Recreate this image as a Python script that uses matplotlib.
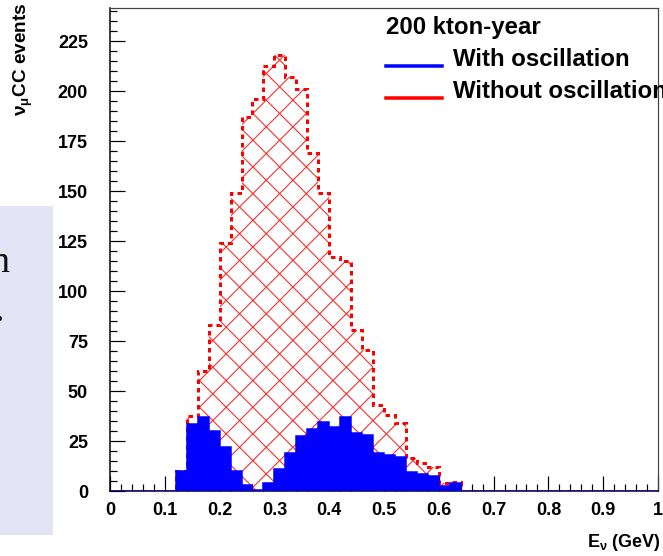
import numpy as np
import matplotlib
matplotlib.use("Agg")
import matplotlib.pyplot as plt
from matplotlib.lines import Line2D
from matplotlib.patches import Rectangle
from matplotlib.collections import LineCollection
from matplotlib.legend_handler import HandlerLine2D

# ---------------- data ----------------
bin_edges = np.round(np.arange(0.0, 1.0001, 0.02), 2)   # 50 bins of 0.02 GeV
first_bin = 0.12
with_osc = [10, 33.5, 37, 30, 22, 10, 3, 0.5, 4, 11, 19, 27.5, 31, 34.5, 32,
            37, 29, 28, 19, 18, 17, 9.5, 8.5, 7.5, 2.7, 3.8]
without_osc = [10, 37.5, 60, 83, 124, 149, 187, 196, 212.5, 218, 207, 201, 169,
               149, 117, 115, 80.5, 70.5, 43, 38, 34, 16.5, 14, 12, 3.8, 4.7]
x_ticks = [0, 0.1, 0.2, 0.3, 0.4, 0.5, 0.6, 0.7, 0.8, 0.9, 1]
x_ticklabels = ["0", "0.1", "0.2", "0.3", "0.4", "0.5", "0.6", "0.7", "0.8", "0.9", "1"]
y_ticks = [0, 25, 50, 75, 100, 125, 150, 175, 200, 225]
legend_title = "200 kton-year"
legend_labels = ["With oscillation", "Without oscillation"]

nb = len(bin_edges) - 1
i0 = int(round(first_bin / 0.02))
blue_vals = np.zeros(nb); blue_vals[i0:i0 + len(with_osc)] = with_osc
red_vals = np.zeros(nb); red_vals[i0:i0 + len(without_osc)] = without_osc

# ---------------- style ----------------
DPI = 100
def pt(px):
    return px * 72.0 / DPI

plt.rcParams['font.family'] = ['Liberation Sans', 'DejaVu Sans']
plt.rcParams['font.weight'] = 'bold'
plt.rcParams['mathtext.default'] = 'regular'
plt.rcParams['lines.scale_dashes'] = False

W, H = 663, 556
fig = plt.figure(figsize=(W / DPI, H / DPI), dpi=DPI)
fig.patch.set_facecolor('white')

# lavender slide fragment on the left
fig.patches.append(Rectangle((0, (H - 535) / H), 53 / W, (535 - 206) / H,
                             transform=fig.transFigure, facecolor='#e4e4f7',
                             edgecolor='none', zorder=0))
fig.text(-10 / W, (H - 272) / H, "n", fontsize=pt(38), family='Liberation Serif',
         fontweight='normal', ha='left', va='baseline', color='#111111')
fig.text(4 / W, (H - 321) / H, ".", fontsize=pt(38), family='Liberation Serif',
         fontweight='normal', ha='right', va='baseline', color='#111111')

ax_l, ax_r, ax_b, ax_t = 110, 658, 491, 8
AW, AH = ax_r - ax_l, ax_b - ax_t
ax = fig.add_axes([ax_l / W, (H - ax_b) / H, AW / W, AH / H])
ax.set_facecolor('none')

# red histogram (without oscillation): cross hatch clipped to its outline
red_patch = ax.stairs(red_vals, bin_edges, fill=True, facecolor='none',
                      edgecolor='none', linewidth=0, zorder=2)
spacing = 26.7  # pixels between parallel hatch lines (horizontal)
segs = []
for c in np.arange(10.7 - AW - AH, AH + AW, spacing):       # "/" lines: y = x + c
    segs.append([(0, c / AH), (1, (AW + c) / AH)])
for d in np.arange(0.4 - AW, AH + 2 * AW, spacing):        # "\" lines: y = -x + d
    segs.append([(0, d / AH), (1, (d - AW) / AH)])
hatch = LineCollection(segs, colors='#ff1a1a', linewidths=pt(1.0),
                       transform=ax.transAxes, zorder=2)
ax.add_collection(hatch, autolim=False)
hatch.set_clip_path(red_patch)
ax.stairs(red_vals, bin_edges, color='#ff0000', linewidth=pt(3),
          linestyle=(0, (pt(4.5), pt(4.0))), zorder=3)
# blue filled histogram (with oscillation)
ax.stairs(blue_vals, bin_edges, fill=True, facecolor='#0000ff', edgecolor='#0000ff',
          linewidth=pt(1.5), zorder=4)

ax.set_xlim(0, 1)
ax.set_ylim(0, 241.5)
ax.set_xticks(x_ticks)
ax.set_xticklabels(x_ticklabels)
ax.set_yticks(y_ticks)
ax.set_xticks(np.arange(0, 1.0001, 0.02), minor=True)
ax.set_yticks(np.arange(0, 241, 5), minor=True)

ax.tick_params(axis='both', which='major', direction='in', length=pt(15), width=pt(1.2),
               labelsize=pt(18), color='black')
ax.tick_params(axis='both', which='minor', direction='in', length=pt(7), width=pt(1.2),
               color='black')
ax.tick_params(axis='x', which='both', pad=pt(11), top=False)
ax.tick_params(axis='y', which='both', pad=pt(22), right=False)
for lab in ax.get_xticklabels() + ax.get_yticklabels():
    lab.set_fontweight('bold')

for side in ['left', 'bottom']:
    ax.spines[side].set_linewidth(pt(1.5))
    ax.spines[side].set_color('black')
for side in ['top', 'right']:
    ax.spines[side].set_linewidth(pt(1.2))
    ax.spines[side].set_color('#444444')

# axis titles
fig.text(661 / W, (H - 547) / H, r"E$_{\nu}$ (GeV)", fontsize=pt(18), fontweight='bold',
         ha='right', va='baseline')
fig.text(12 / W, (H - 2) / H, r"$\nu_{\mu}$CC events", fontsize=pt(19), fontweight='bold',
         rotation=90, ha='right', va='top', rotation_mode='anchor')


class BaselineLineHandler(HandlerLine2D):
    def create_artists(self, legend, orig_handle, xdescent, ydescent, width, height,
                       fontsize, trans):
        arts = super().create_artists(legend, orig_handle, xdescent, ydescent, width,
                                      height, fontsize, trans)
        for a in arts:
            if isinstance(a, Line2D) and len(a.get_ydata()) > 1:
                a.set_ydata(np.asarray(a.get_ydata(), float) - 0.36 * fontsize)
        return arts


# legend
handles = [Line2D([0], [0], color='#0000ff', linewidth=pt(3.5)),
           Line2D([0], [0], color='#ff0000', linewidth=pt(3.5))]
leg = ax.legend(handles, legend_labels, title=legend_title, loc='upper left',
                bbox_to_anchor=((386 - ax_l) / AW, 1.0 - 8 / AH),
                frameon=False, borderpad=0, borderaxespad=0,
                prop={'size': pt(24), 'weight': 'bold'},
                title_fontproperties={'size': pt(24), 'weight': 'bold'},
                alignment='left', handlelength=2.33, handletextpad=0.46,
                labelspacing=0.38,
                handler_map={Line2D: BaselineLineHandler()})
leg.set_zorder(6)

fig.savefig("out.png", dpi=DPI)
